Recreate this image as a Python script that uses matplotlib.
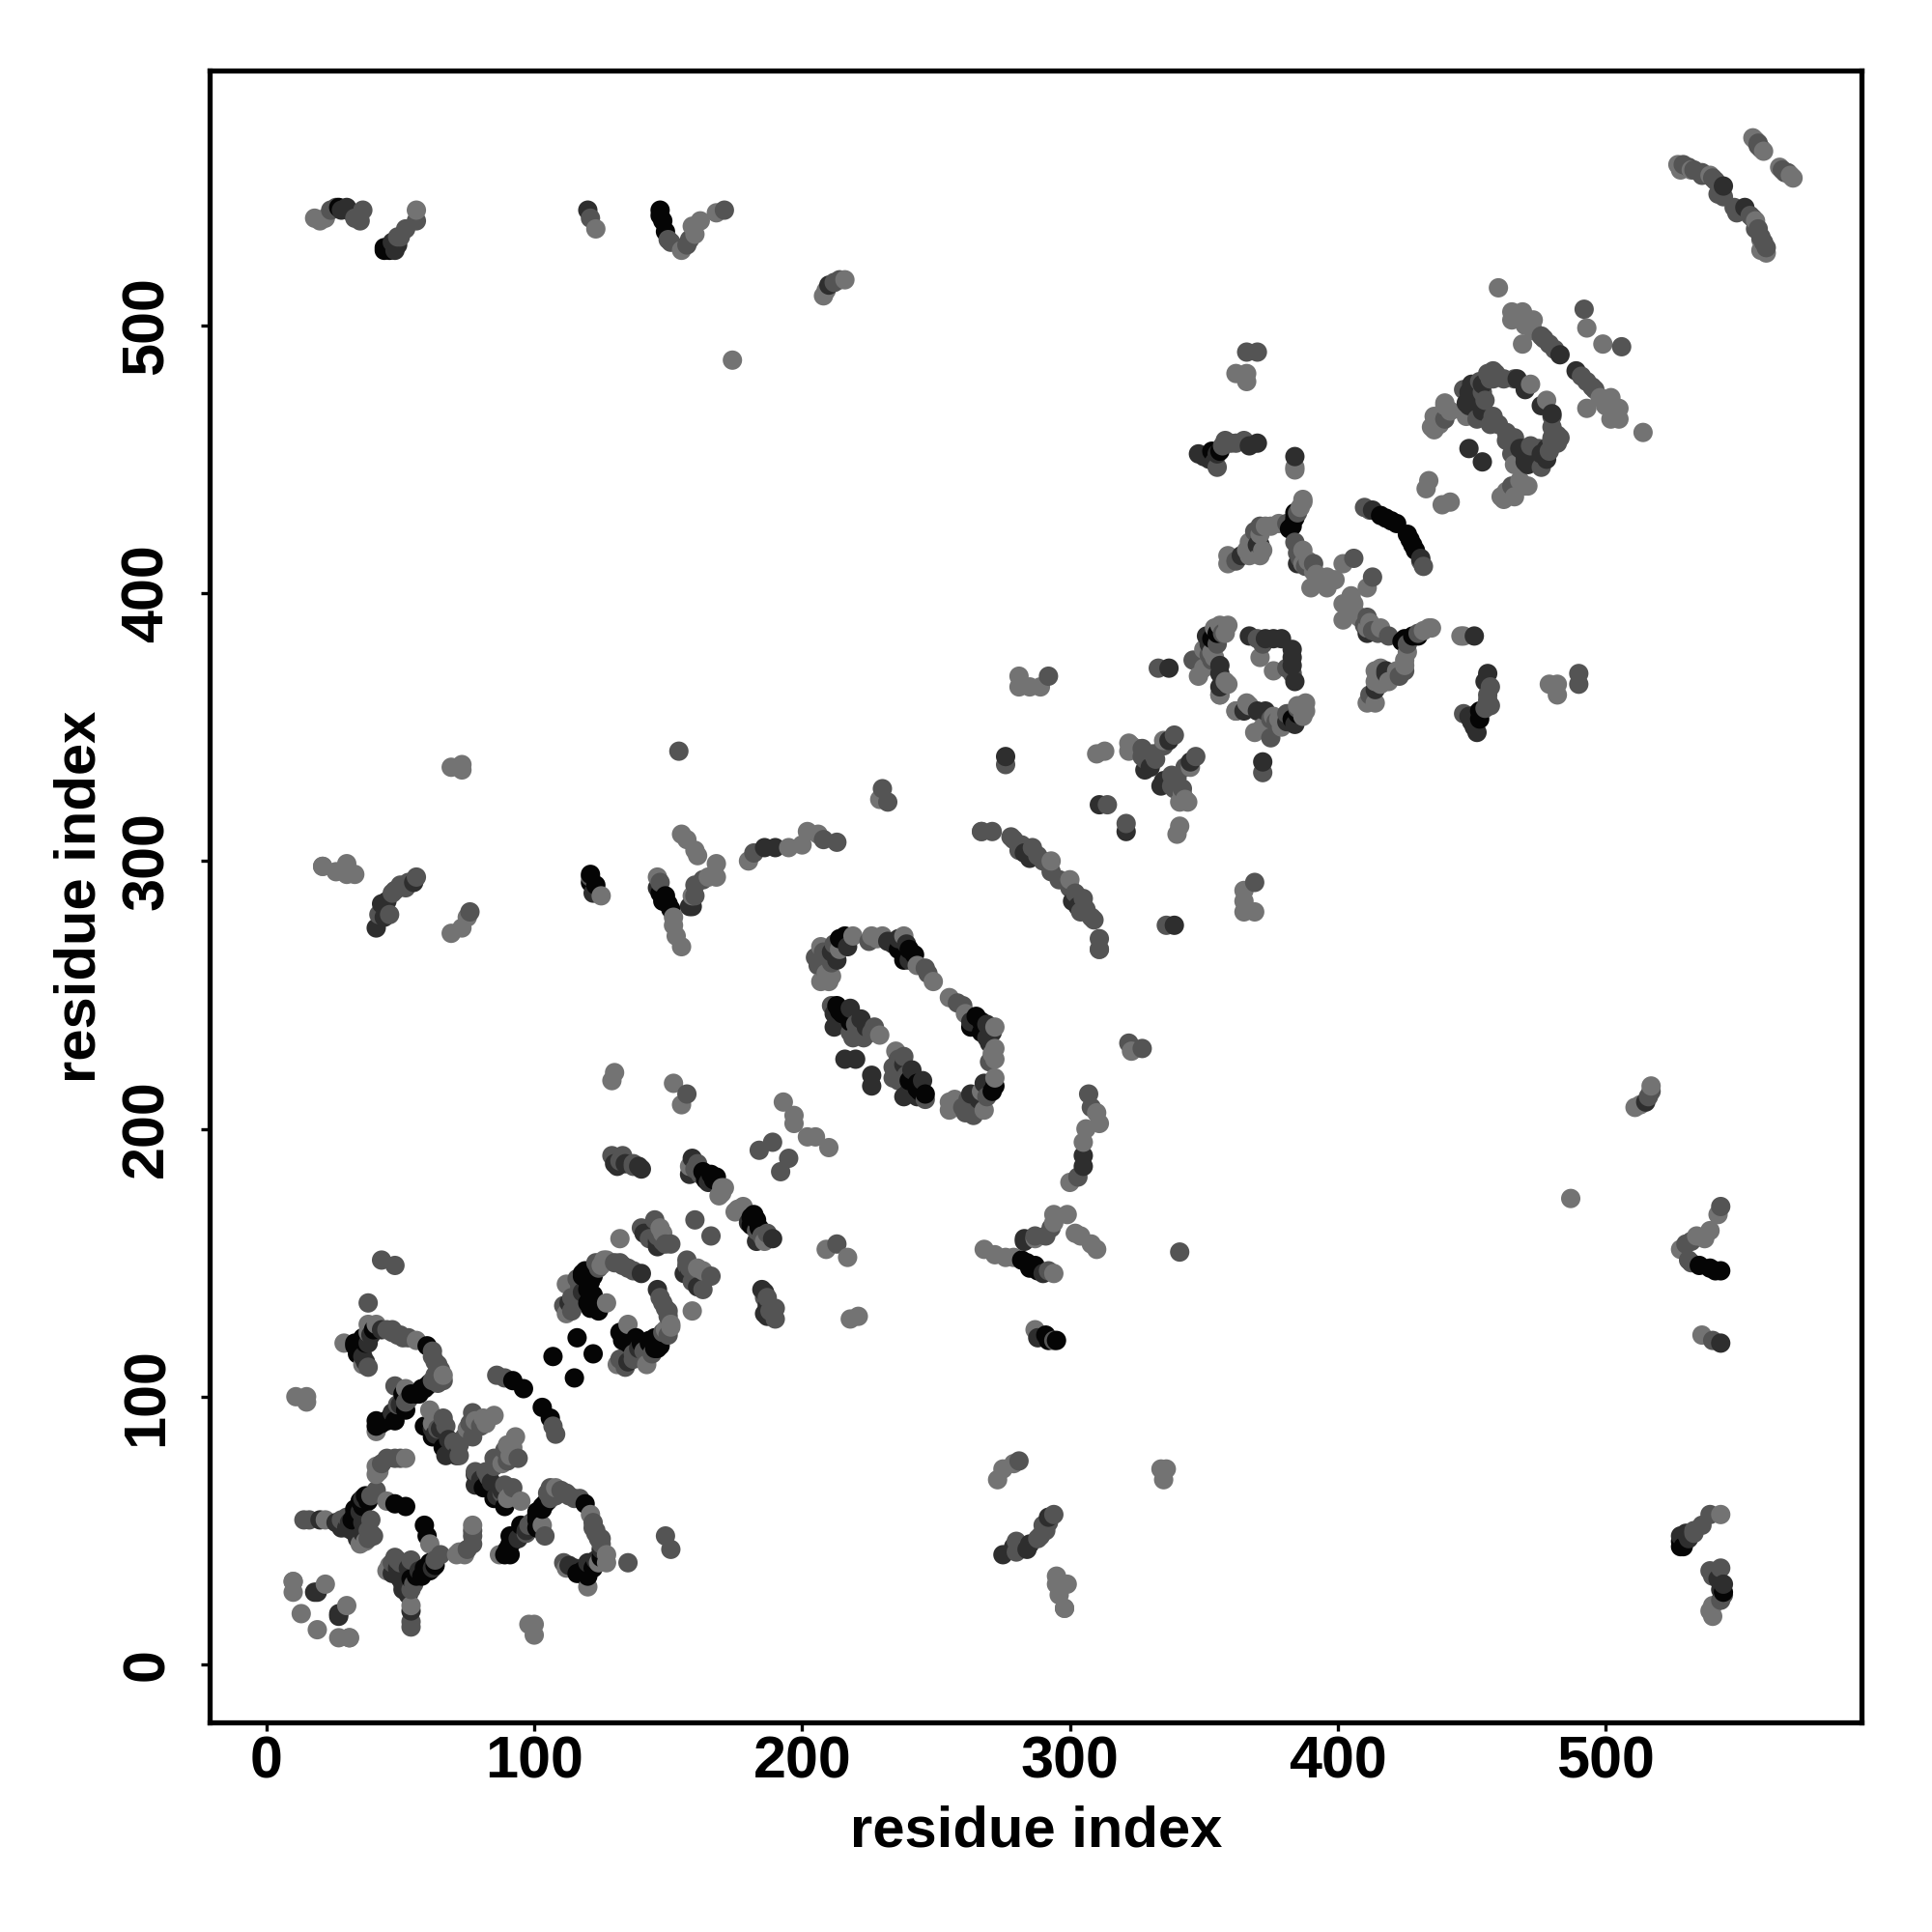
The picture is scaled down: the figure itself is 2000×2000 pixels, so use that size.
import numpy as np
import matplotlib
matplotlib.use("Agg")
import matplotlib.pyplot as plt

plt.rcParams['font.family'] = ['Liberation Sans', 'DejaVu Sans']

# contacts above the diagonal (x residue, y residue), one list per grey level
# the map is symmetric so the other half comes from swapping the columns
light = [(10,31),(10,27),(13,19),(22,30),(31,10),(11,100),(15,100),(15,98),(22,54),(41,71),(41,74),(52,77),
         (45,61),(37,46),(29,120),(38,127),(41,127),(56,121),(66,108),(52,103),(41,87),(36,112),
         (61,95),(63,91),(75,88),(81,92),(85,93),(18,540),(22,540),(56,543),(123,536),(155,528),
         (159,537),(162,539),(168,542),(208,511),(216,517),(174,487),(21,298),(26,296),(33,295),
         (69,273),(73,275),(75,279),(69,335),(73,336),(73,334),(229,323),(125,287),(146,294),
         (152,276),(153,272),(155,268),(159,287),(168,294),(130,221),(129,218),(152,217),(155,209),
         (170,178),(169,175),(193,210),(197,205),(197,202),(132,159),(148,161),(207,268),(207,255),
         (211,257),(219,272),(214,267),(226,272),(230,272),(238,272),(243,261),(249,255),(229,235),
         (112,131),(112,142),(126,151),(127,135),(180,300),(195,305),(200,306),(202,311),(206,310),
         (155,310),(157,308),(160,304),(161,302),(165,294),(168,299),(21,298),(30,295),(30,299),
         (387,434),(387,435),(378,426),(375,425),(371,422),(367,419),(371,414),(367,414),(359,414),
         (359,411),(434,442),(433,439),(387,416),(387,411),(392,407),(396,406),(399,405),(402,411),
         (390,402),(396,402),(359,388),(354,376),(350,379),(348,369),(359,366),(356,362),(371,376),
         (367,358),(362,356),(281,369),(281,365),(285,365),(289,365),(310,340),(313,341),(322,344),
         (322,341),(335,345),(293,300),(311,267),(465,505),(465,502),(469,505),(473,502),(469,493),
         (493,499),(539,556),(555,570),(559,565),(448,466),(440,470),(436,466),(436,461),(472,478),
         (362,482),(366,482),(366,479),(384,447),(384,446),(460,514),
         (62,90),(78,91),(82,90),(42,72),(35,45),(38,124),(125,149),(127,151),(147,163),(170,176),
         (171,178),(158,186),(209,258),(210,255),(228,271),(20,539),(160,534),(209,513),(152,279),
         (353,378),(354,387),(356,388),(358,385),(386,432),(373,425),(372,416),(366,416),(389,412),
         (391,408),(438,463),(442,468),(440,471),(435,462),(470,500),(473,498),(556,569),(528,558),
         (527,560),(532,558),(325,342),(323,343),(350,372)]
medium = [(14,54),(28,54),(41,65),(45,77),(48,77),(38,50),(40,48),(64,88),(67,89),(72,82),(72,78),
          (77,94),(80,89),(77,85),(86,108),(89,107),(47,124),(51,122),(62,115),(64,112),(62,106),
          (48,104),(52,98),(49,97),(38,111),(38,135),(43,151),(48,149),(116,137),(116,144),(123,150),
          (132,150),(135,148),(111,134),(140,163),(145,166),(151,157),(160,166),(26,544),(36,543),
          (35,539),(49,533),(52,536),(56,539),(121,540),(151,531),(158,532),(171,543),(212,516),
          (42,280),(46,280),(47,288),(50,291),(56,294),(76,281),(121,294),(160,291),(157,213),(129,190),
          (133,190),(137,186),(160,185),(189,195),(184,192),(205,264),(208,260),(211,262),(246,260),
          (211,246),(227,238),(223,234),(219,234),(154,341),(230,327),(232,322),(182,303),(208,308),
          (213,307),(271,311),(278,309),(282,306),(286,305),(290,300),(267,311),(371,425),(384,419),
          (391,411),(406,413),(346,375),(370,383),(333,372),(292,369),(276,336),(327,342),(327,339),
          (332,338),(314,321),(358,457),(365,457),(355,447),(366,490),(370,490),(476,496),(479,493),
          (492,506),(529,560),(533,558),(544,548),(557,567),(459,482),(457,480),(454,475),(458,466),
          (457,463),(440,465),(466,480),(410,432),(293,296),
          (30,55),(39,63),(39,54),(38,47),(63,108),(65,110),(66,106),(64,105),(45,125),(49,123),(53,122),
          (62,117),(63,113),(50,123),(47,125),(70,83),(74,85),(76,90),(66,92),(53,99),(16,54),(43,75),(50,77),
          (39,49),(117,141),(124,148),(130,150),(133,149),(137,147),(114,137),(114,132),(143,159),(146,160),
          (148,158),(149,157),(161,187),(162,183),(208,266),(206,261),(212,269),(225,270),(247,258),
          (220,239),(218,236),(226,236),(222,236),(279,308),(288,302),(281,304),(24,543),(33,540),(50,533),
          (150,532),(157,530),(214,517),(43,281),(48,289),(53,292),(52,290),(147,292),(160,287),(163,293),
          (352,377),(357,385),(355,381),(372,381),(353,375),(385,430),(381,426),(369,423),(362,412),(385,415),
          (386,413),(388,410),(412,431),(453,479),(455,472),(456,482),(458,480),(462,480),(452,465),(460,463),
          (457,480),(458,483),(447,476),(477,495),(481,491),(531,559),(536,557),(541,554),(543,550),(558,566),
          (557,568),(542,549),(540,555),(536,556),(357,455),(360,456),(362,456),(328,338),(331,340),(339,347),
          (335,343),(132,188),(137,187)]
dark = [(19,27),(27,18),(30,51),(34,47),(62,88),(67,78),(36,115),(47,94),(38,120),(140,146),(131,186),
        (140,185),(159,189),(146,156),(158,283),(48,528),(49,530),(30,544),(32,542),(120,543),(41,275),
        (43,284),(55,292),(146,290),(158,183),(211,266),(234,269),(239,269),(212,238),(218,245),(222,241),
        (216,226),(220,226),(186,305),(190,305),(285,301),(364,414),(371,418),(385,411),
        (413,431),(367,384),(376,383),(352,381),(356,370),(337,372),(276,339),(328,334),(348,452),
        (354,449),(370,456),(384,451),(483,489),(544,552),(449,475),(449,470),(449,454),(311,321),
        (337,345),(356,365),(454,478),(454,468),(470,476),
        (31,53),(35,57),(36,62),(32,50),(36,53),(20,54),(26,53),(28,51),(36,49),(39,123),(43,125),(37,113),
        (65,88),(63,86),(68,84),(69,80),(71,78),(50,97),(118,139),(113,135),(141,161),(146,158),(165,180),
        (213,263),(217,268),(232,270),(236,271),(240,263),(214,240),(212,243),(224,238),(283,303),(28,543),
        (47,531),(210,515),(44,279),(45,285),(122,288),(159,283),(351,384),(356,373),(373,383),(379,383),
        (370,418),(450,478),(452,476),(452,472),(451,470),(467,480),(454,469),(448,471),(350,451),(352,450),
        (355,452),(367,455),(330,335),(130,187),(134,187),(139,186)]
black = [(33,56),(33,58),(35,61),(37,63),(32,54),(48,60),(52,59),(59,89),(62,85),(66,81),(92,106),(96,103),
         (33,120),(33,119),(36,122),(60,119),(60,104),(58,103),(56,101),(52,95),(41,91),(45,91),(48,91),
         (119,147),(121,143),(118,146),(120,140),(122,138),(124,132),(107,115),(116,122),(44,528),(147,543),
         (148,539),(149,535),(121,295),(123,291),(149,287),(151,282),(166,183),(164,181),(168,182),
         (216,272),(242,265),(238,263),(214,244),(218,240),(384,428),(383,425),(416,429),
         (420,427),(355,385),(353,383),(356,453),
         (34,57),(36,59),(38,61),(57,101),(59,103),(61,105),(35,118),(34,116),(37,120),(40,125),(41,89),
         (43,90),(46,92),(51,101),(54,101),(120,143),(122,145),(121,147),(120,135),(121,133),(118,145),
         (163,184),(167,181),(214,271),(236,267),(240,267),(213,246),(215,243),(217,243),(44,529),(46,528),
         (27,544),(147,541),(147,288),(148,285),(150,284),(121,292),(384,430),(382,424),(418,428),(422,426),
         (353,453)]

ticks = [0, 100, 200, 300, 400, 500]
xlab = "residue index"
ylab = "residue index"

# half map to full map, then in order of x so the marks stack left to right
xs, ys, greys = [], [], []
for pts, g in [(light, 0.45), (medium, 0.33), (dark, 0.18), (black, 0.02)]:
    for a, b in pts:
        xs += [a, b]
        ys += [b, a]
        greys += [g, g]
xs = np.array(xs)
ys = np.array(ys)
greys = np.array(greys)
order = np.lexsort((ys, xs))

fig = plt.figure(figsize=(10, 10), dpi=200)
ax = fig.add_axes([0.1085, 0.1085, 0.8552, 0.8551])
ax.scatter(xs[order], ys[order], c=[str(g) for g in greys[order]], s=52, linewidths=0, zorder=3)
ax.set_xlim(-21.2, 595.7)
ax.set_ylim(-21.6, 595.2)
ax.set_xticks(ticks)
ax.set_yticks(ticks)
ax.tick_params(length=3.2, width=1.2, labelsize=22, pad=1.5)
ax.tick_params(axis='y', pad=9.5)
for t in ax.get_xticklabels() + ax.get_yticklabels():
    t.set_fontweight('bold')
for t in ax.get_yticklabels():
    t.set_rotation(90)
    t.set_va('center')
for s in ax.spines.values():
    s.set_linewidth(1.9)
ax.set_xlabel(xlab, fontsize=21.5, fontweight='bold', labelpad=5.5)
ax.set_ylabel(ylab, fontsize=21.5, fontweight='bold', labelpad=5)
plt.savefig('out.png', dpi=200)
